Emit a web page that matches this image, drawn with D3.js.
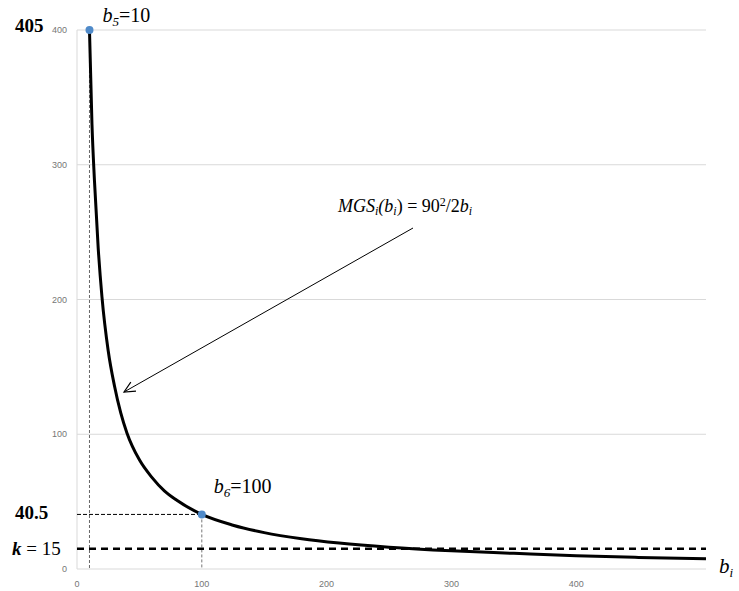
<!DOCTYPE html>
<html>
<head>
<meta charset="utf-8">
<script src="https://cdn.jsdelivr.net/npm/d3@7"></script>
<style>
  body { margin: 0; background: #fff; }
  svg { display: block; }
</style>
</head>
<body>
<svg id="chart" width="739" height="591"></svg>
<script>
// values
const bValues   = [10, 12, 14, 17, 20, 25, 30, 35, 40, 50, 60, 70, 80, 100, 125, 150, 180, 210, 250, 300, 350, 400, 450, 504]
const mgsValues = [400, 330, 288, 238, 202, 162, 136, 116, 101, 81, 68, 58, 51, 40.5, 32.5, 27, 22.5, 19.3, 16.2, 13.5, 11.6, 9.8, 8.6, 7.6]
const xTicks = [0, 100, 200, 300, 400]
const yTicks = [0, 100, 200, 300, 400]
const kValue = 15
const pointB = [10, 100]
const pointV = [400, 40.5]

const svg = d3.select("#chart")
const width = 739, height = 591
const margin = {left: 77, top: 30, right: 33, bottom: 22}

const x = d3.scaleLinear().domain([0, 504]).range([margin.left, width - margin.right])
const y = d3.scaleLinear().domain([0, 400]).range([height - margin.bottom, margin.top])

const tickFont = "'Liberation Sans', Arial, sans-serif"
const serif = "'Liberation Serif', 'Times New Roman', serif"

// gridlines
svg.append("g")
  .selectAll("line")
  .data(yTicks.slice(1))
  .join("line")
    .attr("x1", x(0)).attr("x2", x(504))
    .attr("y1", d => y(d)).attr("y2", d => y(d))
    .attr("stroke", "#d9d9d9").attr("stroke-width", 1)

// axes lines
svg.append("line")
  .attr("x1", x(0)).attr("x2", x(504))
  .attr("y1", y(0)).attr("y2", y(0))
  .attr("stroke", "#d9d9d9")
svg.append("line")
  .attr("x1", x(0)).attr("x2", x(0))
  .attr("y1", y(0)).attr("y2", y(400))
  .attr("stroke", "#d9d9d9")

// tick labels
svg.append("g")
  .selectAll("text")
  .data(yTicks)
  .join("text")
    .attr("x", x(0) - 10)
    .attr("y", d => y(d) + 3)
    .attr("text-anchor", "end")
    .style("font", `9px ${tickFont}`)
    .attr("fill", "#767676")
    .text(d => d)

svg.append("g")
  .selectAll("text")
  .data(xTicks)
  .join("text")
    .attr("x", d => x(d))
    .attr("y", y(0) + 18)
    .attr("text-anchor", "middle")
    .style("font", `9px ${tickFont}`)
    .attr("fill", "#767676")
    .text(d => d)

// dashed guide lines
svg.append("line")
  .attr("x1", x(pointB[0])).attr("x2", x(pointB[0]))
  .attr("y1", y(pointV[0])).attr("y2", y(0))
  .attr("stroke", "#666").attr("stroke-width", 1)
  .attr("stroke-dasharray", "3,2")
svg.append("line")
  .attr("x1", x(pointB[1])).attr("x2", x(pointB[1]))
  .attr("y1", y(pointV[1])).attr("y2", y(0))
  .attr("stroke", "#777").attr("stroke-width", 1)
  .attr("stroke-dasharray", "3,2")
svg.append("line")
  .attr("x1", x(0)).attr("x2", x(pointB[1]))
  .attr("y1", y(pointV[1])).attr("y2", y(pointV[1]))
  .attr("stroke", "#000").attr("stroke-width", 1)
  .attr("stroke-dasharray", "4,2")

// k line
svg.append("line")
  .attr("x1", x(0)).attr("x2", x(504))
  .attr("y1", y(kValue)).attr("y2", y(kValue))
  .attr("stroke", "#000").attr("stroke-width", 2.5)
  .attr("stroke-dasharray", "7,5")

// MGS curve
const line = d3.line()
  .x((d, i) => x(bValues[i]))
  .y(d => y(d))
  .curve(d3.curveMonotoneX)

svg.append("path")
  .datum(mgsValues)
  .attr("d", line)
  .attr("fill", "none")
  .attr("stroke", "#000")
  .attr("stroke-width", 3)

// points
svg.append("g")
  .selectAll("circle")
  .data(pointB)
  .join("circle")
    .attr("cx", d => x(d))
    .attr("cy", (d, i) => y(pointV[i]))
    .attr("r", 4)
    .attr("fill", "#4f8ac9")

// arrow
const ax1 = 413, ay1 = 228, ax2 = 124, ay2 = 392
svg.append("line")
  .attr("x1", ax1).attr("y1", ay1).attr("x2", ax2).attr("y2", ay2)
  .attr("stroke", "#000").attr("stroke-width", 1)
const ang = Math.atan2(ay1 - ay2, ax1 - ax2)
const headLen = 12, spread = 0.45
svg.append("path")
  .attr("d", `M${ax2 + headLen * Math.cos(ang - spread)},${ay2 + headLen * Math.sin(ang - spread)}` +
             `L${ax2},${ay2}` +
             `L${ax2 + headLen * Math.cos(ang + spread)},${ay2 + headLen * Math.sin(ang + spread)}`)
  .attr("fill", "none").attr("stroke", "#000").attr("stroke-width", 1.2)

// left labels
svg.append("text")
  .attr("x", 15).attr("y", y(pointV[0]) + 2)
  .style("font", `bold 19px ${serif}`)
  .text("405")
svg.append("text")
  .attr("x", 15).attr("y", y(pointV[1]) + 5)
  .style("font", `bold 19px ${serif}`)
  .text("40.5")
const kText = svg.append("text")
  .attr("x", 12).attr("y", y(kValue) + 6)
  .style("font", `19px ${serif}`)
kText.append("tspan").style("font-weight", "bold").style("font-style", "italic").text("k")
kText.append("tspan").text(" = 15")

// point labels
function bLabel(px, py, sub, rest) {
  const t = svg.append("text")
    .attr("x", px).attr("y", py)
    .style("font", `20px ${serif}`)
  t.append("tspan").style("font-style", "italic").text("b")
  t.append("tspan").style("font-style", "italic").style("font-size", "13px").attr("dy", 4).text(sub)
  t.append("tspan").attr("dy", -4).text(rest)
}
bLabel(x(pointB[0]) + 13, y(pointV[0]) - 8, "5", "=10")
bLabel(x(pointB[1]) + 12, y(pointV[1]) - 21, "6", "=100")

// formula
const f = svg.append("text")
  .attr("x", 338).attr("y", 212)
  .style("font", `18px ${serif}`)
f.append("tspan").style("font-style", "italic").text("MGS")
f.append("tspan").style("font-style", "italic").style("font-size", "12px").attr("dy", 3).text("i")
f.append("tspan").style("font-style", "italic").attr("dy", -3).text("(b")
f.append("tspan").style("font-style", "italic").style("font-size", "12px").attr("dy", 3).text("i")
f.append("tspan").attr("dy", -3).text(") = 90")
f.append("tspan").style("font-size", "12px").attr("dy", -6).text("2")
f.append("tspan").attr("dy", 6).text("/2")
f.append("tspan").style("font-style", "italic").text("b")
f.append("tspan").style("font-style", "italic").style("font-size", "12px").attr("dy", 3).text("i")

// x axis label
const xl = svg.append("text")
  .attr("x", 719).attr("y", 573)
  .style("font", `italic 21px ${serif}`)
xl.append("tspan").text("b")
xl.append("tspan").style("font-size", "13px").attr("dy", 4).text("i")
</script>
</body>
</html>
